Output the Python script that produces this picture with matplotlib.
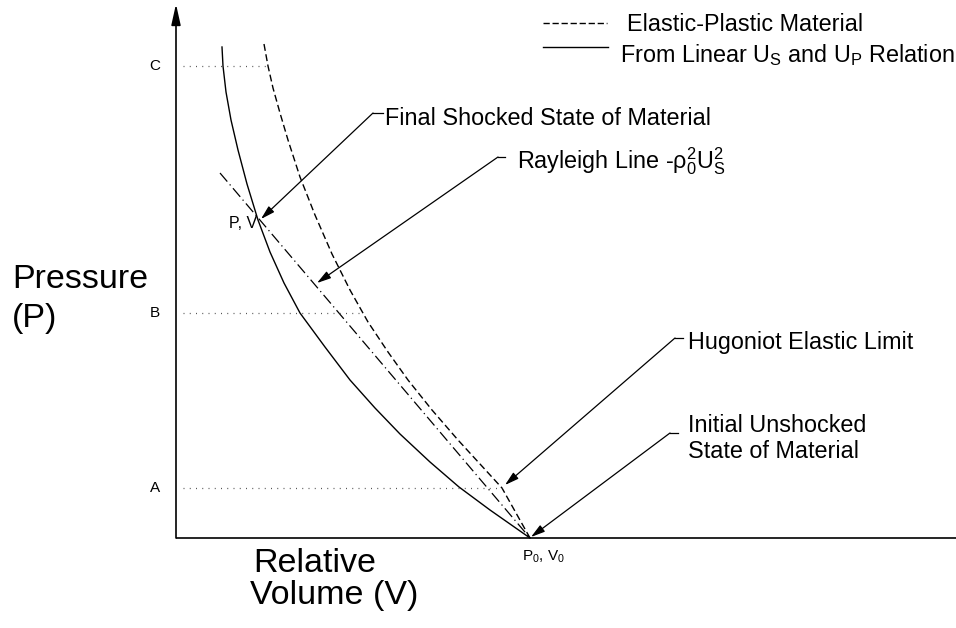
import numpy as np
import matplotlib
matplotlib.use("Agg")
import matplotlib.pyplot as plt

plt.rcParams['font.family'] = ['Liberation Sans', 'DejaVu Sans']
plt.rcParams['mathtext.fontset'] = 'custom'
plt.rcParams['mathtext.rm'] = 'Liberation Sans'
plt.rcParams['mathtext.it'] = 'Liberation Sans:italic'

# Hugoniot from linear Us-Up relation (relative volume, pressure) - schematic units
solid_v = [46, 47, 50, 55, 62, 71, 82, 94, 108, 124, 149, 174, 199, 224, 254, 283, 314, 354]
solid_p = [491, 472, 446, 418, 388, 354, 318, 286, 255, 225, 191, 158, 130, 104, 76, 51, 28, 0]

# elastic-plastic material
dash_v = [88, 92, 97, 104, 112, 124, 139, 156, 174, 192, 212, 232, 256, 282, 304, 326, 354]
dash_p = [494, 472, 450, 425, 398, 361, 323, 284, 248, 216, 186, 158, 128, 98, 74, 50, 0]

# Rayleigh line
ray_v = [44, 354]
ray_p = [365, 0]

# pressure levels on the axis
levels = {'A': 50, 'B': 225, 'C': 472}

state_final = (85, 319)
state_hel = (329, 53)
state_init = (355, 1)

fig = plt.figure(figsize=(9.56, 6.28), dpi=100)
ax = fig.add_axes([0, 0, 1, 1])
ax.set_xlim(-176, 780)
ax.set_ylim(-90, 538)
ax.axis('off')

# axes
ax.plot([0, 780], [0, 0], color='black', lw=1.2, solid_capstyle='butt')
ax.annotate('', xy=(0, 534), xytext=(0, 0),
            arrowprops=dict(arrowstyle='-|>,head_length=0.9,head_width=0.2',
                            color='black', lw=1.2,
                            mutation_scale=14, shrinkA=0, shrinkB=0))

# curves
ax.plot(solid_v, solid_p, color='black', lw=1.0)
ax.plot(dash_v, dash_p, color='black', lw=1.0, dashes=(5, 2.5))
ax.plot(ray_v, ray_p, color='black', lw=0.9, dashes=(9, 3, 1, 3))

# dotted level lines + labels
dash_rev_p = dash_p[::-1]
dash_rev_v = dash_v[::-1]
for name, p in levels.items():
    v_end = np.interp(p, dash_rev_p, dash_rev_v)
    ax.plot([7, v_end], [p, p], color='#555555', lw=0.9, dashes=(0.8, 4.2))
    ax.text(-21, p, name, fontsize=11, ha='center', va='center')

# point labels
ax.text(53, 315, 'P, V', fontsize=11.5, ha='left', va='center')
ax.text(346, -19, r'P$_0$, V$_0$', fontsize=11, ha='left', va='center')

# axis titles
ax.text(-164, 250, 'Pressure', fontsize=24.5, ha='left', va='baseline')
ax.text(-164, 211, '(P)', fontsize=24.5, ha='left', va='baseline')
ax.text(77, -34, 'Relative', fontsize=24.5, ha='left', va='baseline')
ax.text(74, -66, 'Volume (V)', fontsize=24.5, ha='left', va='baseline')

# legend
ax.plot([367, 431], [515, 515], color='black', lw=1.0, dashes=(4.5, 2))
ax.text(451, 507, 'Elastic-Plastic Material', fontsize=16.8, va='baseline')
ax.plot([367, 432], [491, 491], color='black', lw=1.0)
ax.text(444, 476, r'From Linear U$_\mathrm{S}$ and U$_\mathrm{P}$ Relation',
        fontsize=16.8, va='baseline')

# annotations: (text, text pos, leader start, leader corner, tip)
notes = [
    ('Final Shocked State of Material', (209, 413), (207, 425), (197, 425), state_final),
    (r'Rayleigh Line -$\mathrm{ρ}_0^2\mathrm{U}_\mathrm{S}^2$', (341, 370), (329, 381), (322, 381), (141, 255)),
    ('Hugoniot Elastic Limit', (512, 189), (507, 200), (499, 200), state_hel),
    ('Initial Unshocked\nState of Material', (512, 106), (502, 105), (494, 105), state_init),
]
for txt, pos, start, corner, tip in notes:
    if '\n' in txt:
        lines = txt.split('\n')
        ax.text(pos[0], pos[1], lines[0], fontsize=16.8, va='baseline')
        ax.text(pos[0], pos[1] - 26, lines[1], fontsize=16.8, va='baseline')
    else:
        ax.text(pos[0], pos[1], txt, fontsize=16.8, va='baseline')
    ax.plot([start[0], corner[0]], [start[1], corner[1]], color='black', lw=0.9)
    ax.annotate('', xy=tip, xytext=corner,
                arrowprops=dict(arrowstyle='-|>,head_length=0.7,head_width=0.2',
                                color='black', lw=0.9, mutation_scale=12,
                                shrinkA=0, shrinkB=0))

fig.savefig('out.png', dpi=100)
